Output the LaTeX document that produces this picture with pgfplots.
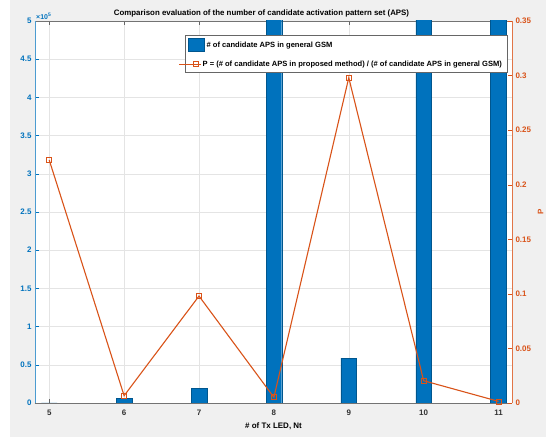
\documentclass[border=0pt]{standalone}
\usepackage{pgfplots}
\pgfplotsset{compat=1.18}
\usepackage{fontspec}
\setmainfont{Liberation Sans}
\definecolor{mblue}{RGB}{0,114,189}
\definecolor{morange}{RGB}{217,83,25}
\definecolor{figgray}{RGB}{240,240,240}
\definecolor{gridgray}{RGB}{228,228,228}
\newcommand{\tfont}{\fontsize{8}{9.5}\selectfont\bfseries}
\newcommand{\lfont}{\fontsize{7.6}{9}\selectfont\bfseries}
\pgfplotsset{
  mypatch/.style={legend image code/.code={\draw[##1] (0bp,-6.5bp) rectangle (16bp,6.5bp);}},
  lineimg/.style={legend image code/.code={\draw[mark repeat=2, mark phase=2, ##1, overlay] plot coordinates {(-9bp,0bp) (7bp,0bp) (13bp,0bp)};}}
}
\begin{document}
\begin{tikzpicture}[x=1bp,y=1bp]
\fill[figgray] (-25,-34) rectangle (511,403);
\begin{axis}[
  name=ax1,
  at={(0,0)}, anchor=south west,
  scale only axis, width=477bp, height=382bp,
  xmin=4.81, xmax=11.18, ymin=0, ymax=500000,
  axis background/.style={fill=white},
  axis y line*=left,
  xtick={5,...,11}, xtick pos=both,
  ytick={0,50000,...,500000},
  yticklabels={0,0.5,1,1.5,2,2.5,3,3.5,4,4.5,5},
  scaled y ticks=false,
  tick align=inside, major tick length=4bp,
  /pgf/number format/assume math mode=true,
  tick label style={font=\tfont},
  yticklabel style={text=mblue},
  xticklabel style={text=black!80, yshift=-3bp},
  ytick style={mblue},
  xtick style={black!60},
  axis line style={black!55},
  y axis line style={mblue!70},
  grid=major, major grid style={gridgray, line width=0.4bp},
  title={Comparison evaluation of the number of candidate activation pattern set (APS)},
  title style={font=\fontsize{7.9}{9.5}\selectfont\bfseries, yshift=-6bp, xshift=-12bp},
  xlabel={\# of Tx LED, Nt},
  xlabel style={font=\tfont, yshift=-1bp},
]
\addplot[ybar, bar width=0.21, fill=mblue, draw=mblue!75!black, line width=0.4bp] coordinates {
 (5,0) (6,6500) (7,19600) (8,1200000) (9,58700) (10,2000000) (11,4000000)};
\end{axis}
\node[anchor=south west, text=mblue, font=\fontsize{7}{8}\selectfont\bfseries, inner sep=1bp] at (ax1.north west) {\texttimes10\textsuperscript{5}};
\begin{axis}[
  at={(0,0)}, anchor=south west,
  scale only axis, width=477bp, height=382bp,
  xmin=4.81, xmax=11.18, ymin=0, ymax=0.35,
  axis y line*=right, axis x line=none,
  ytick={0,0.05,...,0.35},
  tick align=inside, major tick length=4bp,
  /pgf/number format/assume math mode=true,
  yticklabel style={font=\tfont, text=morange, /pgf/number format/fixed},
  ytick style={morange},
  y axis line style={morange!80},
  ylabel={P}, ylabel style={font=\tfont, text=morange},
  legend style={at={(rel axis cs:0.3145,0.963)}, anchor=north west,
    font=\lfont, draw=black!60, inner sep=3bp, row sep=7bp,
    cells={anchor=west}},
  legend cell align=left,
]
\addlegendimage{mypatch, fill=mblue, draw=mblue!75!black}
\addlegendentry{\# of candidate APS in general GSM}
\addplot[morange, line width=1.1bp, mark=square, mark size=2.5bp, mark options={solid, line width=0.7bp}, lineimg] coordinates {
 (5,0.2226) (6,0.0067) (7,0.098) (8,0.0052) (9,0.298) (10,0.0204) (11,0.0015)};
\addlegendentry{\hspace*{-4bp}P = (\# of candidate APS in proposed method) / (\# of candidate APS in general GSM)}
\end{axis}
\pgfresetboundingbox
\useasboundingbox (-35,-34) rectangle (511,403);
\end{tikzpicture}
\end{document}
